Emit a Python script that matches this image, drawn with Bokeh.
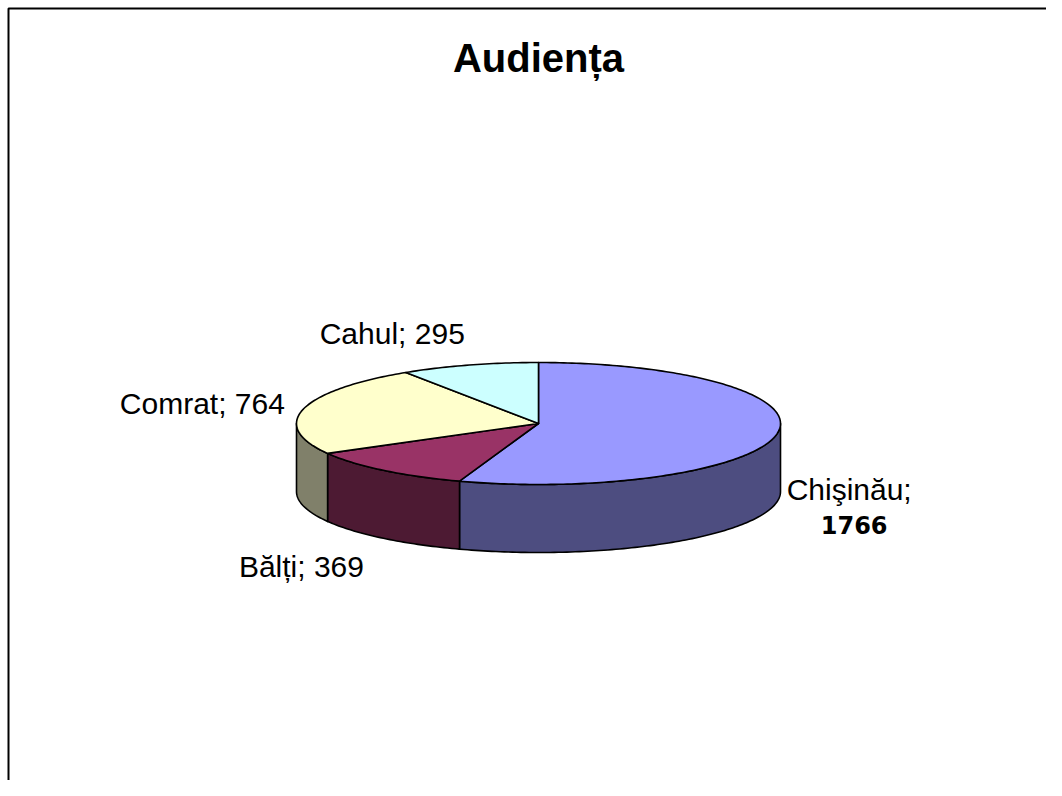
import math
from bokeh.plotting import figure
from bokeh.models import Range1d
from bokeh.core.properties import value
from bokeh.embed import file_html
from bokeh.resources import INLINE

# ---- data ----
categories = ["Chişinău", "Bălți", "Comrat", "Cahul"]
values = [1766, 369, 764, 295]
top_colors = ["#9999FF", "#993366", "#FFFFCC", "#CCFFFF"]
side_colors = ["#4D4D80", "#4D1A33", "#80806A", "#668080"]
title_text = "Audiența"

# ---- layout ----
W, H = 1046, 780
CX, CY = 538, 423       # centre of top ellipse (px)
RX, RY = 242, 61        # radii of top ellipse
DEPTH = 68              # thickness of the pie
FONT = "Liberation Sans"

p = figure(width=W, height=H, output_backend="svg", toolbar_location=None,
           x_range=Range1d(0, W), y_range=Range1d(H, 0),
           min_border=0, outline_line_color=None, background_fill_color="white")
p.axis.visible = False
p.grid.visible = False

# chart border (only top & left fall inside the window)
p.quad(left=[8], right=[W + 20], top=[8], bottom=[H + 20],
       fill_color=None, line_color="black", line_width=2)


def pt(theta_deg, dy=0.0):
    t = math.radians(theta_deg)
    return CX + RX * math.cos(t), CY - RY * math.sin(t) + dy


def arc(a_from, a_to, dy=0.0, n=None):
    if n is None:
        n = max(2, int(abs(a_from - a_to) / 1.0) + 1)
    xs, ys = [], []
    for i in range(n + 1):
        a = a_from + (a_to - a_from) * i / n
        x, y = pt(a, dy)
        xs.append(x)
        ys.append(y)
    return xs, ys


total = float(sum(values))
angles = []
start = 90.0
for v in values:
    sweep = 360.0 * v / total
    angles.append((start, start - sweep))
    start -= sweep

# side walls (front half only: -180..0 deg modulo 360)
side_xs, side_ys, side_cols = [], [], []
for (s, e), col in zip(angles, side_colors):
    for k in (-1, 0, 1):
        lo, hi = -180 + 360 * k, 0 + 360 * k
        a_hi = min(s, hi)
        a_lo = max(e, lo)
        if a_hi - a_lo > 1e-6:
            tx, ty = arc(a_hi, a_lo)
            bx, by = arc(a_lo, a_hi, dy=DEPTH)
            side_xs.append(tx + bx)
            side_ys.append(ty + by)
            side_cols.append(col)
p.patches(side_xs, side_ys, fill_color=side_cols, line_color="black",
          line_width=1.6, line_join="round")

# top faces
top_xs, top_ys = [], []
for (s, e) in angles:
    ax, ay = arc(s, e)
    top_xs.append([CX] + ax)
    top_ys.append([CY] + ay)
p.patches(top_xs, top_ys, fill_color=top_colors, line_color="black",
          line_width=1.6, line_join="round")

# title
p.text(x=[CX], y=[57], text=[title_text], text_font=value(FONT),
       text_font_size="40px", text_font_style="bold", text_align="center",
       text_baseline="middle", text_color="black")

# data labels: offsets from the slice mid-point on the rim
label_offsets = [(72, 56), (-82, 96), (-101, -6), (-77, -32)]
for i, ((s, e), (dx, dy)) in enumerate(zip(angles, label_offsets)):
    mx, my = pt((s + e) / 2.0)
    if i == 0:
        p.text(x=[mx + dx], y=[my + dy], text=[categories[i] + ";"],
               text_font=value(FONT), text_font_size="30px",
               text_align="center", text_baseline="middle", text_color="black")
        p.text(x=[mx + dx + 5], y=[my + dy + 35], text=[str(values[i])],
               text_font=value("DejaVu Sans"), text_font_size="24px",
               text_font_style="bold",
               text_align="center", text_baseline="middle", text_color="black")
    else:
        p.text(x=[mx + dx], y=[my + dy], text=[f"{categories[i]}; {values[i]}"],
               text_font=value(FONT), text_font_size="30px",
               text_align="center", text_baseline="middle", text_color="black")

open("out.html", "w").write(file_html(p, INLINE))
